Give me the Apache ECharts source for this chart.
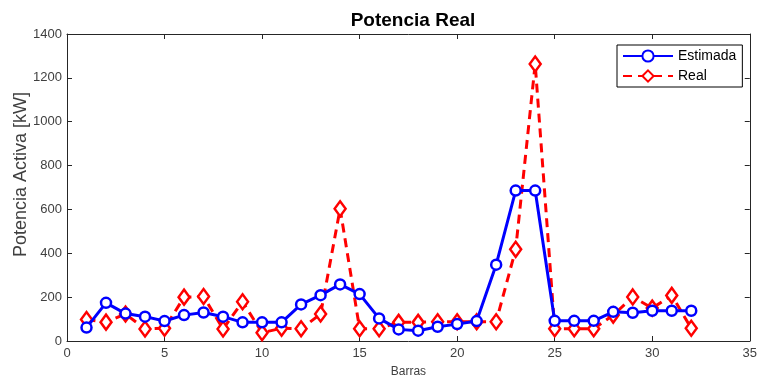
<!DOCTYPE html>
<html><head><meta charset="utf-8">
<script src="https://cdn.jsdelivr.net/npm/echarts@6/dist/echarts.min.js"></script>
<style>html,body{margin:0;padding:0;background:#fff}#c{width:760px;height:383px}</style>
</head><body><div id="c"></div>
<script>
var barras = [1,2,3,4,5,6,7,8,9,10,11,12,13,14,15,16,17,18,19,20,21,22,23,24,25,26,27,28,29,30,31,32];
var estimada = [61,174,125,111,91,118,130,111,85,85,85,167,209,258,214,103,53,47,65,77,91,348,686,686,92,92,92,133,129,138,138,138];
var real = [98,86,123,55,58,200,203,55,179,38,58,56,123,603,56,56,85,85,88,88,88,88,418,1263,56,56,56,118,201,150,208,58];
var xTicks = [0,5,10,15,20,25,30,35];
var yTicks = [0,200,400,600,800,1000,1200,1400];

var font = 'Liberation Sans, Arial, sans-serif';
var chart = echarts.init(document.getElementById('c'));
function pairs(v){ return barras.map(function(b,i){ return [b, v[i]]; }); }
var axCol = '#262626';
var lblCol = '#404040';
chart.setOption({
  animation:false,
  backgroundColor:'#fff',
  title:{text:'Potencia Real', left:408, top:6, textAlign:'center',
    textStyle:{fontFamily:font, fontSize:19, fontWeight:'bold', color:'#000'}},
  legend:{orient:'vertical', left:617, top:45, backgroundColor:'#fff', borderColor:'#000', borderWidth:1,
    padding:[4,6,4,5], itemGap:6, itemWidth:50, itemHeight:14,
    textStyle:{fontFamily:font, fontSize:14, color:'#000'},
    data:['Estimada','Real']},
  graphic:[{type:'text', left:12, top:92, rotation:Math.PI/2,
    style:{text:'Potencia Activa [kW]', fontFamily:font, fontSize:18, fill:lblCol}}],
  grid:{left:67, right:8, top:34, bottom:40},
  xAxis:[{type:'value', min:xTicks[0], max:xTicks[xTicks.length-1], interval:5,
    name:'Barras', nameLocation:'middle', nameGap:25,
    nameTextStyle:{fontFamily:font, fontSize:12, color:lblCol},
    axisLine:{onZero:false, lineStyle:{color:axCol, width:1}},
    axisTick:{inside:true, length:5, lineStyle:{color:axCol}},
    axisLabel:{fontFamily:font, fontSize:13, color:lblCol, margin:6},
    splitLine:{show:false}},
   {type:'value', position:'top', min:0, max:35, interval:5,
    axisLine:{onZero:false, lineStyle:{color:axCol, width:1}},
    axisTick:{inside:true, length:5, lineStyle:{color:axCol}},
    axisLabel:{show:false}, splitLine:{show:false}}],
  yAxis:[{type:'value', min:yTicks[0], max:yTicks[yTicks.length-1], interval:200,
    axisLine:{show:true, onZero:false, lineStyle:{color:axCol, width:1}},
    axisTick:{show:true, inside:true, length:5, lineStyle:{color:axCol}},
    axisLabel:{fontFamily:font, fontSize:13, color:lblCol, margin:5, formatter:function(v){return String(v);}},
    splitLine:{show:false}},
   {type:'value', position:'right', min:0, max:1400, interval:200,
    axisLine:{show:true, onZero:false, lineStyle:{color:axCol, width:1}},
    axisTick:{show:true, inside:true, length:5, lineStyle:{color:axCol}},
    axisLabel:{show:false}, splitLine:{show:false}}],
  series:[
    {name:'Estimada', type:'line', data:pairs(estimada), symbol:'circle', symbolSize:10,
     lineStyle:{color:'#0000ff', width:3}, itemStyle:{color:'#fff', borderColor:'#0000ff', borderWidth:2.5},
     color:'#0000ff', z:3},
    {name:'Real', type:'line', data:pairs(real), symbol:'diamond', symbolSize:[11,15],
     lineStyle:{color:'#ff0000', width:3, type:[9,6]}, itemStyle:{color:'#fff', borderColor:'#ff0000', borderWidth:2.5},
     color:'#ff0000', z:2}
  ]
});
</script></body></html>
